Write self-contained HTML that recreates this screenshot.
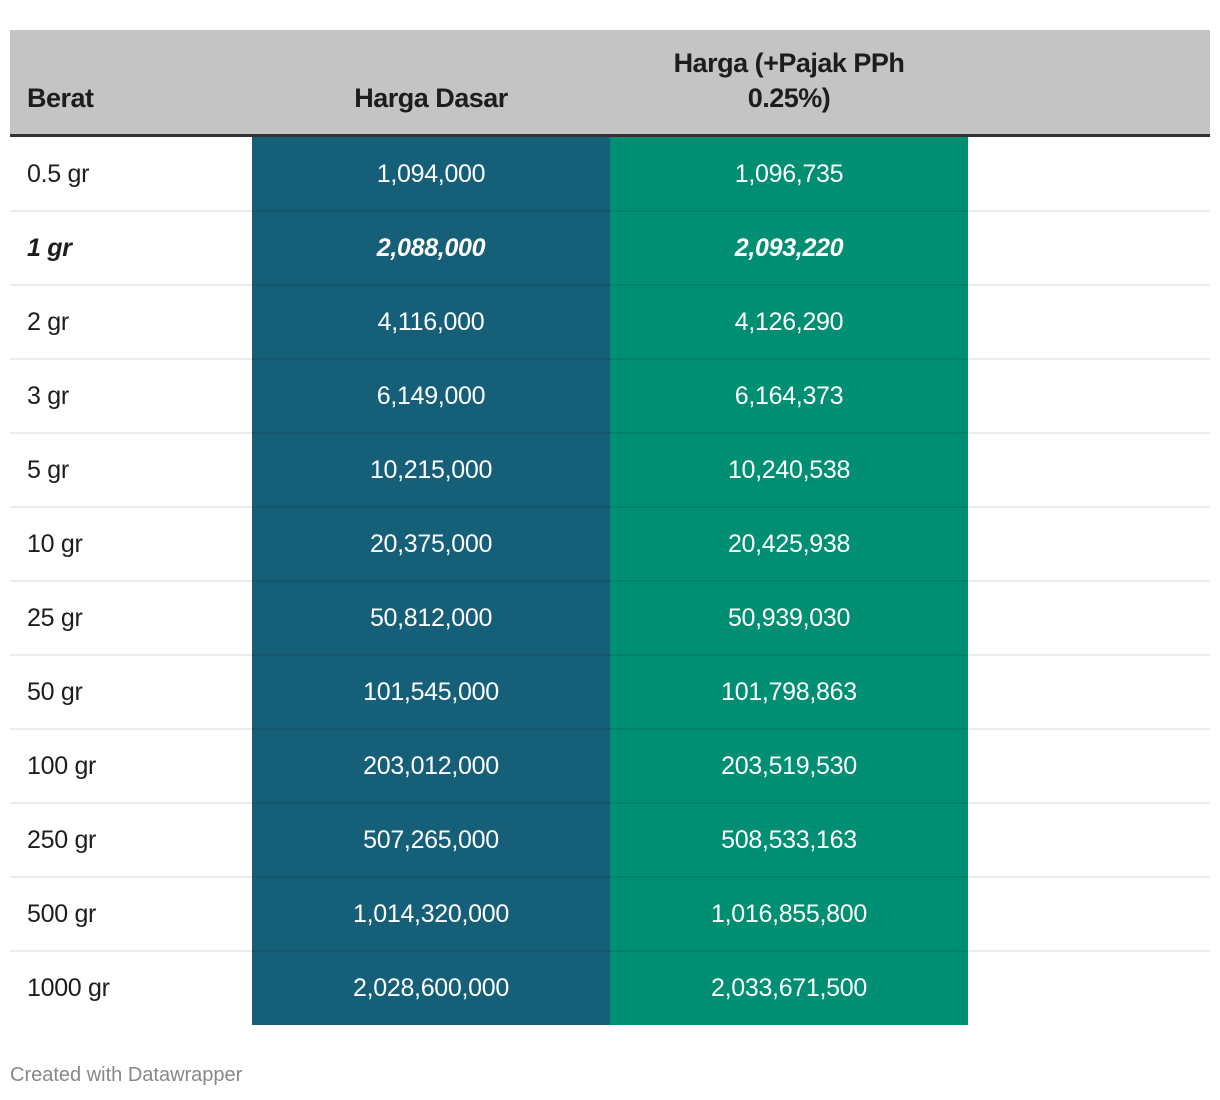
<!DOCTYPE html>
<html><head><meta charset="utf-8"><style>
body{margin:0;width:1220px;height:1100px;background:#fff;font-family:"Liberation Sans",sans-serif;position:relative;overflow:hidden}
.abs{position:absolute}
.hdr{left:10px;top:30px;width:1200px;height:104px;background:#c4c4c4}
.hb{left:10px;top:134px;width:1200px;height:3px;background:#333}
.ht{font-weight:bold;font-size:27px;color:#1d1d1d;letter-spacing:-0.5px}
.cell{font-size:25px;letter-spacing:-0.3px;line-height:74px;height:74px}
.num{color:#fff;text-align:center;width:358px}
.lbl{color:#1d1d1d;left:27px}
.sep{height:2px;background:#ececec;left:10px;width:1200px}
.it{font-style:italic;font-weight:bold}
</style></head><body>
<div class="abs hdr"></div>
<div class="abs ht" style="left:27px;top:83px">Berat</div>
<div class="abs ht" style="left:252px;width:358px;text-align:center;top:83px">Harga Dasar</div>
<div class="abs ht" style="left:610px;width:358px;text-align:center;top:46px;line-height:35px">Harga (+Pajak PPh<br>0.25%)</div>
<div class="abs hb"></div>
<div id="tbl"></div>
<div class="abs" style="left:10px;top:1064px;font-size:20px;color:#888">Created with Datawrapper</div>
<script>
const weights=["0.5 gr","1 gr","2 gr","3 gr","5 gr","10 gr","25 gr","50 gr","100 gr","250 gr","500 gr","1000 gr"];
const basePrices=["1,094,000","2,088,000","4,116,000","6,149,000","10,215,000","20,375,000","50,812,000","101,545,000","203,012,000","507,265,000","1,014,320,000","2,028,600,000"];
const taxPrices=["1,096,735","2,093,220","4,126,290","6,164,373","10,240,538","20,425,938","50,939,030","101,798,863","203,519,530","508,533,163","1,016,855,800","2,033,671,500"];
const tbl=document.getElementById('tbl');
const top0=137,rh=74;
const bg1=document.createElement('div');bg1.className='abs';
bg1.style.cssText=`left:252px;top:${top0}px;width:358px;height:${rh*weights.length}px;background:#165f78`;


tbl.appendChild(bg1);
const bg2=document.createElement('div');bg2.className='abs';
bg2.style.cssText=`left:610px;top:${top0}px;width:358px;height:${rh*weights.length}px;background:#008f72`;


tbl.appendChild(bg2);
weights.forEach((w,i)=>{
  const y=top0+i*rh;
  const ex=i===1?' it':'';
  const a=document.createElement('div');a.className='abs cell lbl'+ex;a.style.top=y+'px';a.textContent=w;
  
  
  tbl.appendChild(a);
  const b=document.createElement('div');b.className='abs cell num'+ex;b.style.top=y+'px';b.style.left='252px';b.textContent=basePrices[i];
  
  
  tbl.appendChild(b);
  const c=document.createElement('div');c.className='abs cell num'+ex;c.style.top=y+'px';c.style.left='610px';c.textContent=taxPrices[i];
  
  
  tbl.appendChild(c);
  if(i<weights.length-1){
    const s=document.createElement('div');s.className='abs sep';s.style.top=(y+rh-1)+'px';
    s.style.background='rgba(0,0,0,0.08)';
    
    
    tbl.appendChild(s);
  }
});
</script>
</body></html>
